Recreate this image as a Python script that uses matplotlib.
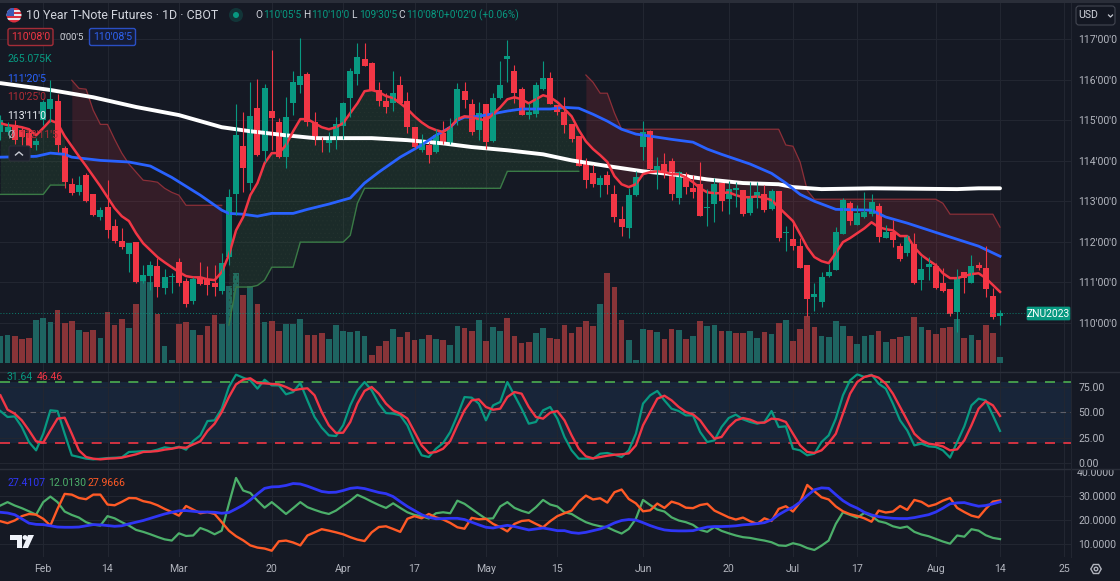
import numpy as np
import matplotlib
matplotlib.use("Agg")
import matplotlib.pyplot as plt
from matplotlib.patches import Circle, FancyBboxPatch, Polygon, Rectangle
from matplotlib.transforms import Bbox

plt.rcParams['font.family'] = ['Roboto', 'DejaVu Sans']
plt.rcParams['hatch.linewidth'] = 0.3

# daily candles, first bar is 23 Jan 2023 or so
opens = [114.71,114.71,114.88,114.76,114.68,114.38,115.00,115.28,115.47,114.31,
         113.42,113.22,113.64,113.17,112.61,112.85,112.38,112.01,111.69,111.99,
         111.02,111.15,111.39,110.85,111.12,111.49,111.02,110.53,111.10,111.07,
         110.97,110.78,111.62,113.17,114.36,113.45,115.30,114.24,115.23,114.95,
         114.09,115.42,115.87,116.14,114.95,114.57,114.43,114.51,114.85,115.55,
         116.14,116.51,116.41,115.75,115.47,115.42,115.87,115.47,114.83,114.26,
         114.39,114.21,114.68,114.43,114.98,115.72,115.40,114.76,115.40,114.48,
         115.55,116.51,116.21,115.77,115.13,115.15,115.77,116.04,115.37,115.20,
         114.90,114.61,113.97,113.69,113.40,113.64,113.17,112.56,112.33,113.15,
         114.34,114.73,113.69,113.92,113.99,113.08,113.67,113.32,113.42,112.83,
         112.93,113.45,113.05,113.27,113.27,112.70,113.08,113.17,112.80,113.25,
         112.21,112.06,111.89,111.42,110.63,110.50,111.15,111.30,112.18,112.95,
         112.41,112.61,112.68,112.88,112.09,112.23,111.89,111.72,111.94,111.05,
         111.37,111.39,110.97,110.83,110.26,111.25,110.97,111.42,111.35,110.65,
         110.17]
closes = [115.00,114.83,114.51,114.58,114.31,114.48,115.45,115.52,114.39,113.47,
          113.20,113.40,113.00,112.66,112.78,112.28,112.01,111.86,111.96,111.00,
          111.17,111.42,110.88,111.12,111.15,110.97,110.46,111.07,110.95,110.93,
          110.88,111.47,113.10,114.63,113.82,115.10,114.14,115.79,115.05,114.09,
          115.08,115.94,116.09,114.95,114.58,114.51,114.56,114.90,115.42,116.21,
          116.56,116.34,115.75,115.47,115.32,115.67,115.42,114.83,114.34,114.46,
          114.14,114.63,114.43,114.83,115.77,115.50,114.71,115.18,114.46,115.55,
          115.87,116.59,115.67,115.13,115.20,115.87,116.04,115.40,115.20,114.88,
          114.53,113.87,113.52,113.42,113.57,113.40,112.61,112.36,113.15,113.59,
          114.71,113.79,113.87,113.72,113.17,113.72,113.35,113.22,112.63,112.85,
          113.42,113.00,113.30,113.32,112.68,113.08,113.22,112.78,113.25,112.09,
          112.23,111.89,111.35,110.58,110.70,111.12,111.25,112.23,113.03,112.51,
          112.70,112.73,112.98,112.11,112.23,112.04,111.57,112.14,110.97,111.32,
          111.44,110.85,110.78,110.21,111.12,111.10,111.39,111.35,110.83,110.13,
          110.25]
highs = [115.13,114.95,115.00,114.83,114.76,114.56,115.50,115.99,115.65,114.36,
         113.57,113.62,113.69,113.17,112.85,113.52,112.56,112.33,111.96,111.99,
         111.42,111.52,111.59,111.32,111.22,111.59,111.10,111.12,111.49,111.39,
         111.42,111.72,113.30,115.40,115.20,115.94,116.02,115.89,116.73,115.05,
         115.57,116.21,117.03,116.19,115.20,114.58,114.71,115.08,115.45,116.29,
         116.91,116.91,116.44,115.94,115.67,116.21,116.09,115.70,114.83,114.66,
         114.46,114.78,114.98,115.05,115.92,115.94,115.52,115.45,115.40,115.67,
         116.46,116.98,116.36,115.82,115.42,115.94,116.46,116.19,115.37,115.57,
         114.90,114.61,114.06,113.89,113.64,113.74,113.40,112.88,113.32,113.74,
         114.98,114.76,114.09,114.19,114.06,113.74,113.72,113.64,113.97,113.30,
         113.57,113.45,113.50,113.47,113.27,113.47,113.47,113.40,113.30,113.25,
         112.38,112.51,112.09,111.42,110.97,111.25,111.44,112.36,113.08,113.00,
         112.90,113.22,113.17,112.95,112.41,112.53,111.96,112.16,112.21,111.64,
         111.62,111.47,111.35,110.83,111.32,111.25,111.67,111.49,111.89,110.85,
         110.31]
lows = [114.51,114.63,114.41,114.39,114.21,114.26,114.88,114.95,114.21,113.32,
        113.15,113.15,112.98,112.63,112.53,112.09,111.96,111.81,111.25,110.97,
        110.97,110.80,110.63,110.70,110.73,110.90,110.38,110.46,110.93,110.68,
        110.65,110.70,111.42,112.66,113.22,113.27,114.11,113.97,114.26,114.06,
        113.82,115.13,115.67,114.85,114.39,114.21,114.21,114.29,114.53,115.08,
        115.87,116.34,115.75,115.35,115.18,115.23,115.40,114.68,114.31,114.21,
        113.94,114.19,114.41,114.41,114.88,115.30,114.63,114.51,114.29,114.46,
        115.52,115.94,115.42,115.13,115.03,115.08,115.75,115.40,115.13,114.68,
        114.46,113.87,113.32,113.35,113.10,113.17,112.48,112.14,112.09,113.12,
        114.01,113.77,113.30,113.57,113.03,112.93,113.17,113.08,112.63,112.38,
        112.48,112.75,112.68,112.85,112.63,112.66,112.83,112.73,112.78,112.01,
        111.77,111.79,111.35,110.16,110.28,110.38,111.12,111.30,112.18,112.41,
        112.41,112.58,112.63,111.99,112.09,111.86,111.52,111.64,110.95,110.80,
        111.05,110.83,110.75,110.16,109.76,110.73,110.97,111.30,110.63,110.10,
        109.95]

# volume in thousands, and its own up/down colouring
volumes = [1191,1220,1176,1073,1117,1896,1970,1793,2352,1749,
           1867,1455,1382,1455,1102,2249,1690,1926,1529,2587,
           3866,3572,2146,764,147,1735,1793,1455,1250,1632,
           2102,1705,3425,3984,3013,3425,2617,1793,1838,1426,
           1705,1735,1940,1250,1250,1308,1073,1661,1411,1352,
           1426,1191,338,764,970,1485,1132,1382,1000,1073,
           1250,1073,1000,794,1632,1558,1426,1911,970,1588,
           1426,1970,1176,897,926,1308,1558,1117,1044,1690,
           1308,1588,1867,1632,2587,3984,3381,1896,1000,147,
           1485,1455,1352,1073,1485,1455,1073,1205,1838,1632,
           1661,1426,1426,1308,1308,1411,1088,1352,1294,1764,
           1911,985,1499,2058,1573,1191,1132,1852,1646,1191,
           853,1191,1235,1426,926,1058,1161,1191,2029,1573,
           1470,1264,1544,1573,1955,1103,1250,1014,1676,1338,
           265]
vol_dirs = ("ggrrrgggrr" "rgrrgrrrgr" "ggrggrrgrr" "rgggrgrgrr" "gggrrrgggg"
            "ggrrrgrrrg" "rgrggrrgrg" "grrrrggrrr" "rrrrgrrrgg" "grgrrgrgrg"
            "grgrrggrgr" "grrrrggggr" "gggrgrrgrg" "rrrrgrgrrr" "g")

# fast line on the price pane, read at every bar
fast_line = [114.93,114.88,114.86,114.83,114.78,114.63,114.81,115.00,114.93,114.61,
             114.36,114.11,113.87,113.62,113.37,113.10,112.83,112.63,112.51,112.21,
             111.96,111.79,111.62,111.49,111.37,111.25,111.15,111.12,111.12,111.07,
             111.05,111.25,111.67,112.28,112.61,113.15,113.45,113.94,114.19,114.19,
             114.39,114.73,115.03,115.03,114.93,114.83,114.78,114.83,114.93,115.18,
             115.42,115.72,115.75,115.70,115.60,115.55,115.42,115.28,115.10,114.95,
             114.83,114.76,114.71,114.83,115.03,115.10,115.08,115.03,115.00,115.15,
             115.32,115.52,115.57,115.52,115.42,115.52,115.62,115.57,115.45,115.28,
             115.10,114.76,114.48,114.29,114.14,113.97,113.62,113.42,113.35,113.42,
             113.67,113.72,113.74,113.72,113.67,113.67,113.59,113.47,113.32,113.22,
             113.20,113.20,113.22,113.15,113.10,113.10,113.12,113.08,113.03,112.85,
             112.68,112.51,112.19,111.86,111.62,111.52,111.47,111.72,111.99,112.09,
             112.21,112.33,112.48,112.36,112.31,112.28,112.14,112.14,111.86,111.67,
             111.54,111.42,111.22,111.10,111.10,111.15,111.20,111.22,111.10,110.93,
             110.76]
# stepped line the clouds are filled to
step_line = [113.17,113.17,113.17,113.17,113.17,113.17,113.17,113.40,113.40,113.40,
             115.99,115.79,115.77,115.25,114.90,114.90,114.53,114.19,113.92,113.72,
             113.52,113.50,113.47,113.32,113.22,113.15,112.90,112.90,112.90,112.90,
             112.90,112.90,109.94,110.88,110.88,110.88,110.92,111.05,111.37,111.37,
             111.37,111.37,111.99,111.99,111.99,111.99,111.99,111.99,111.99,112.16,
             112.95,113.32,113.32,113.32,113.32,113.32,113.32,113.32,113.32,113.32,
             113.32,113.32,113.32,113.32,113.32,113.32,113.32,113.32,113.32,113.32,
             113.32,113.74,113.74,113.74,113.74,113.74,113.74,113.74,113.74,113.74,
             113.74,113.74,116.12,115.94,115.67,115.67,115.18,114.78,114.78,114.78,
             114.78,114.78,114.78,114.78,114.78,114.78,114.78,114.78,114.78,114.78,
             114.78,114.78,114.78,114.78,114.78,114.78,114.78,114.78,114.78,114.78,
             114.39,114.36,113.97,113.27,113.05,113.05,113.05,113.05,113.05,113.05,
             113.05,113.05,113.05,113.05,113.05,113.05,113.05,113.05,113.05,113.05,
             113.05,113.05,112.95,112.68,112.68,112.68,112.68,112.68,112.68,112.68,
             112.36]
cloud_spans = [(0, 9, 'g'), (10, 31, 'r'), (32, 81, 'g'), (82, 140, 'r')]

# the two slow averages
blue_idx = [0,5,7,9,10,14,18,21,24,28,31,32,34,36,38,41,43,46,49,51,53,56,59,61,63,64,65,66,68,71,
            73,77,79,81,83,85,87,89,91,94,97,99,101,103,105,108,110,112,114,117,122,124,127,131,134,137,140]
blue_vals = [114.09,114.11,114.19,114.16,114.09,114.01,113.97,113.87,113.59,113.15,112.78,112.70,112.68,
             112.63,112.70,112.70,112.80,112.93,113.08,113.45,113.72,114.09,114.39,114.63,114.83,115.00,
             115.08,115.08,115.13,115.23,115.28,115.28,115.32,115.30,115.15,114.98,114.78,114.66,114.61,
             114.53,114.46,114.29,114.16,114.04,113.92,113.69,113.45,113.17,113.00,112.80,112.78,112.61,
             112.46,112.23,112.06,111.89,111.64]
white_idx = [0,7,13,19,25,31,35,40,44,52,57,62,66,71,76,80,85,90,94,99,104,109,111,115,122,134,137,140]
white_vals = [115.92,115.75,115.57,115.33,115.13,114.83,114.73,114.63,114.56,114.56,114.51,114.43,114.34,
              114.26,114.16,114.01,113.87,113.74,113.67,113.54,113.45,113.42,113.35,113.30,113.32,113.30,
              113.32,113.32]

stoch_k = [51.3,45.4,46,35.5,20.7,12.5,28.9,52,51.3,28.9,7.6,5.9,4.3,3.6,4.3,4.9,5.3,5.6,10.9,11.2,
           11.8,11.5,13.2,15.5,14.5,16.1,13.2,21.7,27.3,41.4,42.1,53.6,75,87.2,84.2,81.6,73.4,82.2,76.6,76.6,
           67.8,70,78.9,61.8,45.4,34.9,27.3,26.6,37.2,56.9,71.7,79.9,71.7,58.6,49.3,48.7,47,37.2,20.7,7.6,
           5.9,14.1,19.7,30.6,47,65.1,64.5,58.6,42.1,56.9,60.2,79.9,66.8,53.6,38.8,40.5,52,55.3,43.8,
           25.7,12.5,4.3,4.3,4.3,9.2,9.9,8.2,5.9,12.5,28.9,58.6,66.8,71.1,61.8,53.6,51.3,47,47,30.6,
           20.7,22.4,35.5,44.4,47.7,43.1,40.5,38.8,40.5,51.3,35.5,36.2,14.1,12.5,7.6,9.2,20.7,27.3,43.8,66.8,
           81.6,87.5,84.9,87.2,78.3,73.4,58.6,42.1,32.2,17.4,19.1,16.4,15.8,12.5,5.3,20.7,36.2,56.9,63.5,61.8,
           47,31.64]
stoch_d = [66.8,52.6,48.7,42.1,32.2,21.4,20.1,32.2,43.8,44.7,28.9,12.5,5.9,4.3,3.6,4.3,4.6,5.3,6.9,8.6,
           10.9,11.2,11.8,13.2,14.1,15.5,15.1,18.4,21.4,31.6,38.8,50.3,65.1,77.6,82.2,83.6,78.9,78.6,78,77.6,
           75,71.7,73,73.7,66.8,50.3,37.2,29.6,29.9,40.5,58.6,71.1,75,68.4,58.6,52,48.7,43.8,30.6,17.4,
           9.9,10.9,14.1,21.7,37.2,52,61.8,62.8,55.3,52.6,53.6,65.1,70,68.4,55.3,45.4,43.8,49.7,51.3,
           42.1,27.3,14.1,6.6,4.6,5.9,7.2,8.2,8.6,9.5,17.4,37.2,50.3,63.5,66.4,61.8,55.3,50.3,48,42.1,
           32.2,24,25.7,35.5,42.1,44.4,42.8,39.8,39.8,43.8,43.1,40.5,28.9,17.4,10.9,9.9,12.5,19.7,28.9,48.7,
           68.4,79.9,84.9,86.5,84.2,78.3,68.4,55.3,42.1,28.9,22.4,19.1,18.1,16.4,12.5,13.5,22.4,37.2,53.6,60.9,
           56.9,46.46]

adx_blue = [23.1,22.8,22.1,20.4,18.6,18.1,18,17.5,17,16.9,16.9,17,17.5,18,17.9,17.6,17.3,17.5,18.3,19,
            19.7,20.6,21.5,22.4,23.1,23.7,23.8,23.5,23.2,23.2,23.1,22.7,23,24.5,26.1,28.2,30.7,33,33.6,33.7,
            34.2,35,34.8,33.9,32.8,31.7,31.3,31.4,32.1,33,33.3,32.9,32.1,31.3,30.8,29.6,27.5,25.5,23.8,22.1,
            21,20.4,20.5,20.6,20.6,20.1,19,17.9,16.9,16.6,17.2,17.7,17.2,16.5,15.8,16.2,16.6,16.1,15.5,
            15.5,14.7,14.4,14.8,15.5,16.2,17.3,18.7,19.7,20.1,19.9,18.8,17.6,16.6,15.8,15.5,15.4,15.4,15.5,16.3,
            17,17.2,17.2,17.3,17.5,17.9,18.1,18.4,18.8,19.9,22.1,23.8,25.2,27.3,30,32.4,33.2,33,30.4,27.9,
            26.1,24.8,23.1,22,21.3,20.9,20.6,20.5,20.5,20.9,21.5,22.1,23.2,24.8,26.6,27,27.1,26.3,25.6,25.9,
            26.6,27.41]
adx_green = [25.9,27.3,25.9,24.8,23.5,22.1,27.3,29.6,27.3,23.4,22,20.9,19,18,17.6,21.5,20.6,19,17.6,15.8,
             15,14,12.9,11.9,11.4,14.4,13.3,13.5,16.6,15.5,14,15.5,26.6,37.3,32.1,31.1,27.9,25,27.3,24.9,
             22.4,24.8,27.3,25.2,24.1,23.1,22.4,23.8,25.9,27.9,30.3,29,27.5,26.1,24.9,26.8,24.9,23.1,22,21.5,
             20.5,22.7,23.1,22.7,27.9,26.6,24.5,22.4,20.4,20.6,25.5,27.3,24.9,23.7,22.8,25.2,28.2,26.3,25.5,
             23.1,22.4,20.6,19,18,17.3,16.9,15.5,14.3,16.2,20.4,28.2,26.1,24.2,23.4,21,19.7,19,17.9,15.8,
             15,17,15.4,14.4,13.5,12.8,12.5,11.9,11.4,10.7,9.4,9.2,10.3,9.6,8.3,7.5,9.3,11.4,18.3,23.1,
             22,20.9,22.8,21.5,19.4,18.7,17.3,16.6,17.2,15,13.9,13.2,12.1,11,10.1,13.5,13,16.1,15.5,13.6,
             12.5,12.01]
adx_orange = [19.4,18.6,19.7,21.5,22.4,22.1,20.4,17.6,24.5,30.7,30.4,29,28.5,30.4,30.4,26.3,26,27.4,29,28.9,
              27.7,27.1,26,24.5,23.2,21.7,25.7,24.2,22.7,23.2,22.4,19,15.5,13.2,11.5,9.4,8.5,8.1,7.2,11.1,
              11.4,10.6,9.4,13.5,14.8,16.1,15.5,14.8,14,12.8,11.8,11.2,14.8,17,17.3,16.2,15,20.4,21.5,20.6,
              22.4,21,20.1,18.7,16.9,16.3,20.8,20.2,20.4,18.3,16.9,15.2,18.3,19.5,19.8,18.3,16.9,19.4,21.5,
              22.7,23.8,27.5,30,28.4,28.9,27.1,31.4,32.5,28.6,26.8,23.5,23.9,26.7,24.9,27.5,26.6,25,24.8,26.1,
              26.6,23.8,22.4,21,20.1,20.9,19.4,18.3,20.6,19.5,24.5,25.6,23.4,27.3,34.4,31.8,29.3,28.4,25.5,23.5,
              22.3,21.6,20.6,19.2,23.8,23,23.4,25.7,24.1,28.2,27.4,25.6,26.4,27.9,29,24.9,23.2,21.7,21,24.5,
              27.5,27.97]

date_ticks = [6, 15, 25, 38, 48, 58, 68, 78, 90, 102, 111, 120, 131, 140, 149]
date_labels = ['Feb', '14', 'Mar', '20', 'Apr', '17', 'May', '15', 'Jun', '20', 'Jul', '17', 'Aug', '14', '25']
price_ticks = [110, 111, 112, 113, 114, 115, 116, 117]
stoch_ticks = [0, 25, 50, 75]
adx_ticks = [10, 20, 30]

BG = '#151924'
GRID = '#222631'
SEP = '#2a2e39'
TXT = '#b2b5be'
UP = '#089981'
DOWN = '#f23645'
W, H = 1120, 581
PANE_R = 1071


def pane(top, bottom):
    # axes from pixel rows, y counted from the top of the picture
    return fig.add_axes([0, 1 - bottom / H, PANE_R / W, (bottom - top) / H])


fig = plt.figure(figsize=(W / 100, H / 100), dpi=100, facecolor=BG)
ax_vol = pane(3, 372)
ax = pane(3, 372)
ax_st = pane(372, 469)
ax_adx = pane(469, 557)

x = np.arange(len(closes))
for a in (ax, ax_vol, ax_st, ax_adx):
    a.set_xlim(-0.056, 149.94)
    a.set_xticks(date_ticks)
    a.tick_params(length=0, labelbottom=False, labelleft=False, labelright=True, right=False, left=False,
                  colors=TXT, labelsize=7.6, pad=5.5)
    a.grid(True, color=GRID, lw=0.8)
    a.set_axisbelow(True)
    for s in a.spines.values():
        s.set_visible(False)

ax.patch.set_alpha(0)
ax.set_ylim(108.78, 117.90)
ax.set_yticks(price_ticks)
ax.set_yticklabels(["%d'00'0" % p for p in price_ticks])
ax.grid(False)

# volume pane shares the price pane rectangle, its grid sits on the price levels so bars cover it
ax_vol.set_facecolor(BG)
ax_vol.set_ylim(-398, 15912)
ax_vol.set_yticks(np.interp(price_ticks, ax.get_ylim(), ax_vol.get_ylim()))
ax_vol.tick_params(labelright=False)
vol_cols = ['#1e6461' if d == 'g' else '#883438' for d in vol_dirs]
ax_vol.bar(x, volumes, width=0.8, color=vol_cols, linewidth=0)

# price pane
fast = np.array(fast_line)
step = np.array(step_line)
for a0, a1, kind in cloud_spans:
    xs = x[a0:a1 + 1]
    if kind == 'g':
        ax.fill_between(xs, step[a0:a1 + 1], fast[a0:a1 + 1], color='#4caf50', alpha=0.12, lw=0)
        ax.fill_between(xs, step[a0:a1 + 1], fast[a0:a1 + 1], facecolor='none', edgecolor='#24332f',
                        hatch='....', lw=0)
        ax.plot(xs, step[a0:a1 + 1], color='#3a7a46', lw=1.0)
    else:
        ax.fill_between(xs, step[a0:a1 + 1], fast[a0:a1 + 1], color='#f23645', alpha=0.14, lw=0)
        ax.plot(xs, step[a0:a1 + 1], color='#8c2f38', lw=0.9)

ax.plot(white_idx, white_vals, color='white', lw=2.8, solid_capstyle='round')
ax.plot(blue_idx, blue_vals, color='#2962ff', lw=2.0)
ax.plot(x, fast, color=DOWN, lw=1.8)

cols = [UP if c >= o else DOWN for o, c in zip(opens, closes)]
ax.vlines(x, lows, highs, colors=cols, lw=0.8)
body_low = np.minimum(opens, closes)
body_h = np.maximum(np.abs(np.array(closes) - np.array(opens)), 0.04)
ax.bar(x, body_h, bottom=body_low, width=0.84, color=cols, linewidth=0)
ax.axhline(closes[-1], color=UP, lw=0.7, ls=(0, (1, 2)), alpha=0.8)

# stochastic pane
ax_st.set_facecolor(BG)
ax_st.set_ylim(-5.9, 89.8)
ax_st.set_yticks(stoch_ticks)
ax_st.set_yticklabels(['%.2f' % t for t in stoch_ticks])
ax_st.axhspan(20, 80, color='#182539', lw=0, zorder=0.5)
ax_st.axhline(80, color='#4caf50', lw=1.2, ls=(0, (6, 5)))
ax_st.axhline(20, color=DOWN, lw=1.2, ls=(0, (6, 5)))
ax_st.axhline(50, color='#5d606b', lw=0.8, ls=(0, (5, 4)))
ax_st.plot(x, stoch_k, color=UP, lw=1.6)
ax_st.plot(x, stoch_d, color=DOWN, lw=1.7)

# directional pane
ax_adx.set_facecolor(BG)
ax_adx.set_ylim(4.6, 41.0)
ax_adx.set_yticks(adx_ticks)
ax_adx.set_yticklabels(['%.4f' % t for t in adx_ticks])
ax_adx.plot(x, adx_green, color='#4caf6a', lw=1.6)
ax_adx.plot(x, adx_orange, color='#ff5a26', lw=1.7)
ax_adx.plot(x, adx_blue, color='#2f36f5', lw=2.0)
ax_adx.tick_params(labelbottom=True, axis='x', pad=5)
ax_adx.set_xticklabels(date_labels)
clip40 = ax_adx.text(1.0052, 39.4, '40.0000', transform=ax_adx.get_yaxis_transform(), color=TXT,
                     fontsize=7.6, va='center', ha='left', clip_on=True)
clip40.set_clip_box(Bbox([[PANE_R, 0], [W, H - 469]]))

# overlay in pixel rows for the chart furniture
ov = fig.add_axes([0, 0, 1, 1])
ov.set_xlim(0, W)
ov.set_ylim(H, 0)
ov.axis('off')
ov.patch.set_alpha(0)

ov.add_patch(Rectangle((0, 0), W, 3, color=SEP, lw=0))
for yy in (372, 469):
    ov.plot([0, W], [yy, yy], color=SEP, lw=1)
ov.plot([PANE_R, PANE_R], [3, 557], color=GRID, lw=0.8)

# flag
clip = Circle((14, 15), 7.5, transform=ov.transData)
for k in range(7):
    st = Rectangle((6, 7.5 + k * 2.15), 16, 2.15, color='#e8e8ee' if k % 2 else '#d9303f', lw=0)
    ov.add_patch(st)
    st.set_clip_path(clip)
cant = Rectangle((6, 7.5), 8, 8, color='#3b5bb5', lw=0)
ov.add_patch(cant)
cant.set_clip_path(clip)

ov.text(26, 15.5, '10 Year T-Note Futures · 1D · CBOT', color='#d1d4dc', fontsize=8.9, va='center')
ov.add_patch(Circle((236, 15), 7, color=UP, alpha=0.22, lw=0))
ov.add_patch(Circle((236, 15), 3, color=UP, lw=0))
ohlc = [(255, 'O', "110'05'5"), (303, 'H', "110'10'0"), (351, 'L', "109'30'5"), (398, 'C', "110'08'0")]
for px, lab, val in ohlc:
    ov.text(px, 15.5, lab, color='#d1d4dc', fontsize=7.3, va='center')
    ov.text(px + 8, 15.5, val, color=UP, fontsize=7.3, va='center')
ov.text(444, 15.5, "+0'02'0 (+0.06%)", color=UP, fontsize=7.3, va='center')

ov.add_patch(FancyBboxPatch((8, 28.5), 45, 17, boxstyle='round,pad=0,rounding_size=2', fc='#241a23', ec='#a52d38', lw=1))
ov.text(30.5, 37.5, "110'08'0", color='#f23645', fontsize=7.6, ha='center', va='center')
ov.text(71.5, 37.5, "0'00'5", color='#d1d4dc', fontsize=6.8, ha='center', va='center')
ov.add_patch(FancyBboxPatch((89.5, 28.5), 46, 17, boxstyle='round,pad=0,rounding_size=2', fc='#151c35', ec='#2a4fc4', lw=1))
ov.text(112.5, 37.5, "110'08'5", color='#2f62f0', fontsize=7.6, ha='center', va='center')

ov.text(7, 59.5, '265.075K', color=UP, fontsize=7.6, va='center')
ov.text(7, 78.5, "111'20'5", color='#2962ff', fontsize=7.6, va='center')
ov.text(7, 97.5, "110'25'0", color='#b02c36', fontsize=7.6, va='center')
ov.text(7, 116, "113'11'0", color='#eceff5', fontsize=7.6, va='center')
ov.text(7, 134.5, 'Ø', color='#b2b5be', fontsize=7.6, va='center')
ov.text(19, 134.5, "112'11'5", color='#b02c36', fontsize=7.6, va='center')
ov.add_patch(FancyBboxPatch((9, 146), 21, 15, boxstyle='round,pad=0,rounding_size=2', fc='#1c202c', ec='#2a2e39', lw=0.8))
ov.plot([15.5, 19, 22.5], [155, 152, 155], color='#c8cbd3', lw=1)

ov.text(7, 377, '31.64', color=UP, fontsize=7.6, va='center')
ov.text(37, 377, '46.46', color=DOWN, fontsize=7.6, va='center')
ov.text(7, 483, '27.4107', color='#2f36f5', fontsize=7.6, va='center')
ov.text(48, 483, '12.0130', color='#4caf6a', fontsize=7.6, va='center')
ov.text(88, 483, '27.9666', color='#ff5a26', fontsize=7.6, va='center')

# last price tag
ov.add_patch(FancyBboxPatch((1027, 307), 43, 13, boxstyle='round,pad=0,rounding_size=1', fc=UP, ec=UP, lw=0.5))
ov.text(1048.5, 313.7, 'ZNU2023', color='white', fontsize=7.4, ha='center', va='center')

# USD selector
ov.add_patch(FancyBboxPatch((1076, 6), 39, 19, boxstyle='round,pad=0,rounding_size=3', fc='#131722', ec='#434651', lw=0.8))
ov.text(1078.5, 15.5, 'USD', color='#d1d4dc', fontsize=7.6, va='center')
ov.plot([1108.5, 1110.5, 1112.5], [15, 17, 15], color='#c8cbd3', lw=0.9)

# gear
ang = np.linspace(0, 2 * np.pi, 7)
ov.add_patch(Polygon(np.c_[1096 + 5.2 * np.cos(ang), 569 + 5.2 * np.sin(ang)], fill=False, ec=TXT, lw=1))
ov.add_patch(Circle((1096, 569), 1.8, fill=False, ec=TXT, lw=1))

# TradingView mark
ov.add_patch(Polygon([(10, 535), (22, 535), (22, 548), (17, 548), (17, 540), (10, 540)], color='#f0f3fa', lw=0))
ov.add_patch(Circle((25, 537.5), 2.4, color='#f0f3fa', lw=0))
ov.add_patch(Polygon([(28, 535), (34, 535), (28, 548), (22.5, 548)], color='#f0f3fa', lw=0))

fig.savefig('out.png', dpi=100, facecolor=BG)
